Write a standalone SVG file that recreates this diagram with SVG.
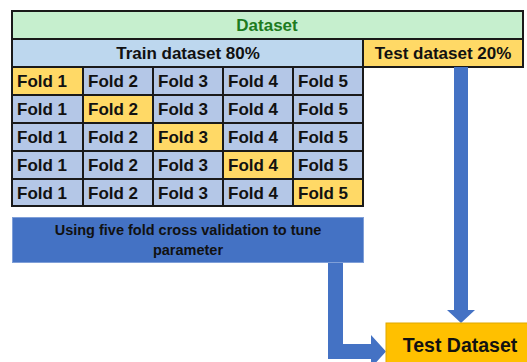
<svg xmlns="http://www.w3.org/2000/svg" width="527" height="362" viewBox="0 0 527 362">
<style>
text{font-family:"Liberation Sans",Arial,sans-serif;font-weight:bold;fill:#111}
.cell{stroke:#1a1a1a;stroke-width:2}
.b{fill:#B4C7E7}
.y{fill:#FFD966}
.f{font-size:17px}
.h{font-size:17px;text-anchor:middle}
.arr{fill:#4472C4}
</style>
<rect width="527" height="362" fill="#fff"/>
<g id="dataset">
<rect class="cell" x="12" y="11" width="511" height="28" fill="#C6EFCE"/>
<text class="h" x="267" y="31" style="fill:#1E7B1E">Dataset</text>
</g>
<g id="train">
<rect class="cell" x="12" y="39" width="351" height="28" fill="#BDD7EE"/>
<text class="h" x="188" y="59">Train dataset 80%</text>
</g>
<g id="test20">
<rect class="cell" x="363" y="39" width="160" height="28" fill="#FFD966"/>
<text class="h" x="443" y="59">Test dataset 20%</text>
</g>
<g id="folds">
<g id="row1">
<rect class="cell y" x="12" y="67" width="71" height="28"/><rect class="cell b" x="83" y="67" width="70" height="28"/><rect class="cell b" x="153" y="67" width="70" height="28"/><rect class="cell b" x="223" y="67" width="70" height="28"/><rect class="cell b" x="293" y="67" width="70" height="28"/>
<text class="f" x="17" y="87">Fold 1</text><text class="f" x="88" y="87">Fold 2</text><text class="f" x="158" y="87">Fold 3</text><text class="f" x="228" y="87">Fold 4</text><text class="f" x="298" y="87">Fold 5</text>
</g>
<g id="row2">
<rect class="cell b" x="12" y="95" width="71" height="28"/><rect class="cell y" x="83" y="95" width="70" height="28"/><rect class="cell b" x="153" y="95" width="70" height="28"/><rect class="cell b" x="223" y="95" width="70" height="28"/><rect class="cell b" x="293" y="95" width="70" height="28"/>
<text class="f" x="17" y="115">Fold 1</text><text class="f" x="88" y="115">Fold 2</text><text class="f" x="158" y="115">Fold 3</text><text class="f" x="228" y="115">Fold 4</text><text class="f" x="298" y="115">Fold 5</text>
</g>
<g id="row3">
<rect class="cell b" x="12" y="123" width="71" height="28"/><rect class="cell b" x="83" y="123" width="70" height="28"/><rect class="cell y" x="153" y="123" width="70" height="28"/><rect class="cell b" x="223" y="123" width="70" height="28"/><rect class="cell b" x="293" y="123" width="70" height="28"/>
<text class="f" x="17" y="143">Fold 1</text><text class="f" x="88" y="143">Fold 2</text><text class="f" x="158" y="143">Fold 3</text><text class="f" x="228" y="143">Fold 4</text><text class="f" x="298" y="143">Fold 5</text>
</g>
<g id="row4">
<rect class="cell b" x="12" y="151" width="71" height="28"/><rect class="cell b" x="83" y="151" width="70" height="28"/><rect class="cell b" x="153" y="151" width="70" height="28"/><rect class="cell y" x="223" y="151" width="70" height="28"/><rect class="cell b" x="293" y="151" width="70" height="28"/>
<text class="f" x="17" y="171">Fold 1</text><text class="f" x="88" y="171">Fold 2</text><text class="f" x="158" y="171">Fold 3</text><text class="f" x="228" y="171">Fold 4</text><text class="f" x="298" y="171">Fold 5</text>
</g>
<g id="row5">
<rect class="cell b" x="12" y="179" width="71" height="27"/><rect class="cell b" x="83" y="179" width="70" height="27"/><rect class="cell b" x="153" y="179" width="70" height="27"/><rect class="cell b" x="223" y="179" width="70" height="27"/><rect class="cell y" x="293" y="179" width="70" height="27"/>
<text class="f" x="17" y="199">Fold 1</text><text class="f" x="88" y="199">Fold 2</text><text class="f" x="158" y="199">Fold 3</text><text class="f" x="228" y="199">Fold 4</text><text class="f" x="298" y="199">Fold 5</text>
</g>
</g>
<g id="cv">
<rect x="12.5" y="217.5" width="351" height="45" fill="#4472C4" stroke="#7F9FD8" stroke-width="1"/>
<text x="188" y="235" style="font-size:14.5px;text-anchor:middle">Using five fold cross validation to tune</text>
<text x="188" y="255" style="font-size:14.5px;text-anchor:middle">parameter</text>
</g>
<g id="connectors">
<polygon class="arr" points="454,67 468,67 468,310 475,310 461,323 447,310 454,310"/>
<polygon class="arr" points="328,263 343,263 343,344 371,344 371,335 386,351.5 371,368 371,359 328,359"/>
</g>
<g id="testDataset">
<rect x="386" y="323" width="150" height="50" fill="#FFC000" stroke="#E0A800" stroke-width="1"/>
<text x="460" y="352" style="font-size:19.5px;text-anchor:middle">Test Dataset</text>
</g>
</svg>
